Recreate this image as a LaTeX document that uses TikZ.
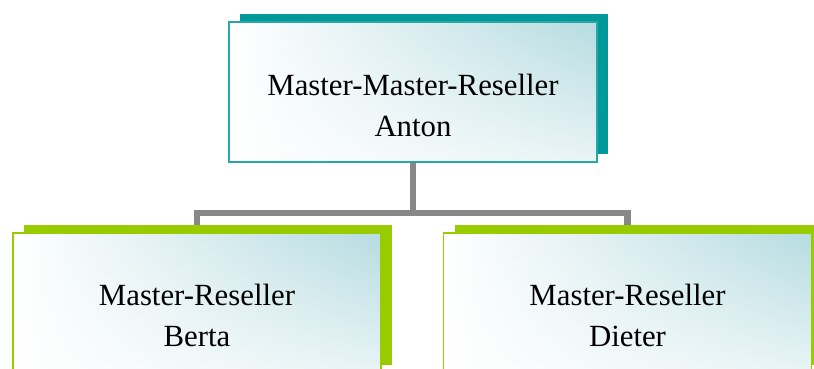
\documentclass[tikz,border=0pt]{standalone}
\usepackage{fontspec}
\setmainfont{Liberation Serif}
\usetikzlibrary{shadows,fadings,backgrounds}

\definecolor{tealshade}{HTML}{009999}
\definecolor{tealedge}{HTML}{2AA6A6}
\definecolor{limeshade}{HTML}{99CC00}
\definecolor{tint}{HTML}{B6DCE1}
\definecolor{linkgray}{HTML}{888888}

\tikzset{
  orgbox/.style 2 args={draw=#2, line width=1.8pt, inner sep=0pt, outer sep=0pt,
    minimum width=368pt, minimum height=140pt,
    left color=white, right color=tint,
    general shadow={fill=#1, shadow xshift=11pt, shadow yshift=8.5pt},
    postaction={fill=white, path fading=north, fill opacity=0.7},
    postaction={draw=#2, line width=1.8pt}},
  boxtext/.style={font=\fontsize{30.8}{41}\selectfont, align=center, inner sep=0pt},
  link/.style={draw=linkgray, line width=6.5pt}
}

\begin{document}
\begin{tikzpicture}[x=1pt, y=-1pt]
  % Rahmen des Bildes
  \useasboundingbox (0,0) rectangle (814,368);
  \clip (0,0) rectangle (814,368);

  % oberste Ebene
  \node[orgbox={tealshade}{tealedge}] (anton) at (413,92) {};
  \node[boxtext] (antontext) at ([yshift=-13pt]anton.center) {Master-Master-Reseller\\Anton};

  % zweite Ebene
  \node[orgbox={limeshade}{limeshade}] (berta) at (197,303) {};
  \node[boxtext] (bertatext) at ([yshift=-12pt]berta.center) {Master-Reseller\\Berta};

  \node[orgbox={limeshade}{limeshade}] (dieter) at (627.5,303) {};
  \node[boxtext] (dietertext) at ([yshift=-12pt]dieter.center) {Master-Reseller\\Dieter};

  % Verbindungen hinter den Kaesten
  \begin{scope}[on background layer]
    \draw[link] (anton.south) -- ++(0,51) -| (berta.north);
    \draw[link] (anton.south) -- ++(0,51) -| (dieter.north);
  \end{scope}
\end{tikzpicture}
\end{document}
